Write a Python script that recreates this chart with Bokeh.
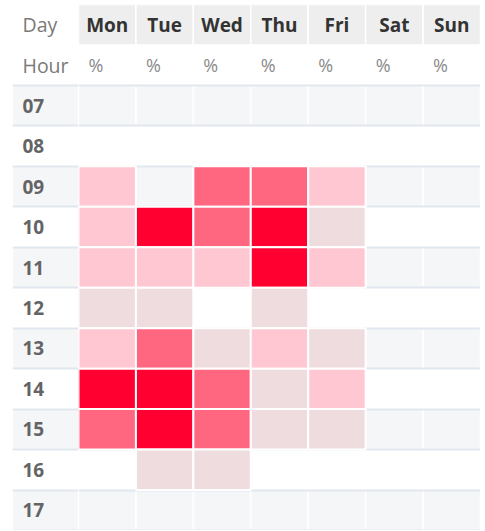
from bokeh.plotting import figure
from bokeh.layouts import row
from bokeh.models import FactorRange, ColumnDataSource, LinearColorMapper
from bokeh.transform import transform
from bokeh.core.properties import value
from bokeh.embed import file_html
from bokeh.resources import INLINE

nan = float("nan")

corner_label = "Day"
unit_row_label = "Hour"
days = ["Mon", "Tue", "Wed", "Thu", "Fri", "Sat", "Sun"]
units = ["%", "%", "%", "%", "%", "%", "%"]
hours = ["07", "08", "09", "10", "11", "12", "13", "14", "15", "16", "17"]

# percent of visits per day and hour (NaN = no data)
mon = [nan, nan, 3.5, 3.8, 3.2, 1.6, 3.4, 9.2, 6.1, nan, nan]
tue = [nan, nan, nan, 9.0, 3.3, 1.4, 6.3, 9.5, 9.8, 1.2, nan]
wed = [nan, nan, 6.2, 6.0, 3.1, nan, 1.5, 6.4, 6.0, 1.3, nan]
thu = [nan, nan, 6.4, 9.6, 9.1, 1.7, 3.6, 1.8, 1.4, nan, nan]
fri = [nan, nan, 3.7, 1.9, 3.5, nan, 1.6, 3.3, 1.5, nan, nan]
sat = [nan, nan, nan, nan, nan, nan, nan, nan, nan, nan, nan]
sun = [nan, nan, nan, nan, nan, nan, nan, nan, nan, nan, nan]

series = {"Mon": mon, "Tue": tue, "Wed": wed, "Thu": thu,
          "Fri": fri, "Sat": sat, "Sun": sun}

palette = ["#efdcdf", "#ffc7d1", "#ff6680", "#ff0030"]

H = 530
BT = 4
LABEL_W, BL = 66, 12
GRID_W = 402
y_factors = list(reversed([corner_label, unit_row_label] + hours))
y_range = FactorRange(factors=y_factors, range_padding=0)
stripe_rows = hours[::2]
font = value("Open Sans")


def make_fig(cols, width, left_border):
    f = figure(width=width, height=H, x_range=FactorRange(factors=cols, range_padding=0),
               y_range=y_range, output_backend="svg", toolbar_location=None,
               min_border_left=left_border, min_border_right=0,
               min_border_top=BT, min_border_bottom=0)
    f.axis.visible = False
    f.grid.visible = False
    f.outline_line_color = None
    f.background_fill_color = "white"
    f.border_fill_color = "white"
    sx, sy = [], []
    for r in stripe_rows:
        for c in cols:
            sx.append(c)
            sy.append(r)
    f.rect(x=sx, y=sy, width=1, height=1, fill_color="#f5f6f8",
           line_color="white", line_width=1.5)
    f.hspan(y=list(range(len(y_factors) - 1)), line_color="#e1e7ef", line_width=2)
    return f


# ---- label column ----
pl = make_fig([corner_label], BL + LABEL_W, BL)
lpad = -LABEL_W / 2 + 10
pl.text(x=[corner_label, corner_label], y=[corner_label, unit_row_label],
        text=[corner_label, unit_row_label], text_font=font, text_font_size="19.5px",
        text_color="#7a7a7a", text_align="left", text_baseline="middle", x_offset=lpad)
pl.text(x=[corner_label] * len(hours), y=hours, text=hours, text_font=font,
        text_font_size="19px", text_font_style="bold", text_color="#646464",
        text_align="left", text_baseline="middle", x_offset=lpad)

# ---- day grid ----
p = make_fig(days, GRID_W, 0)
col_w = GRID_W / len(days)
pad = -col_w / 2 + 10
p.rect(x=days, y=[corner_label] * len(days), width=1, height=1,
       fill_color="#eeeeee", line_color="white", line_width=1.5)

cx, cy, cv = [], [], []
for d in days:
    for h, v in zip(hours, series[d]):
        if v == v:
            cx.append(d)
            cy.append(h)
            cv.append(v)
src = ColumnDataSource(dict(x=cx, y=cy, v=cv))
mapper = LinearColorMapper(palette=palette, low=0, high=10)
p.rect(x="x", y="y", width=1, height=1, source=src,
       fill_color=transform("v", mapper), line_color="white", line_width=2)

p.text(x=days, y=[corner_label] * len(days), text=days, text_font=font,
       text_font_size="19px", text_font_style="bold", text_color="#333333",
       text_align="center", text_baseline="middle")
p.text(x=days, y=[unit_row_label] * len(days), text=units, text_font=font,
       text_font_size="18px", text_color="#8a8a8a", text_align="left",
       text_baseline="middle", x_offset=pad)

layout = row(pl, p, spacing=0)
open("out.html", "w").write(file_html(layout, INLINE))
